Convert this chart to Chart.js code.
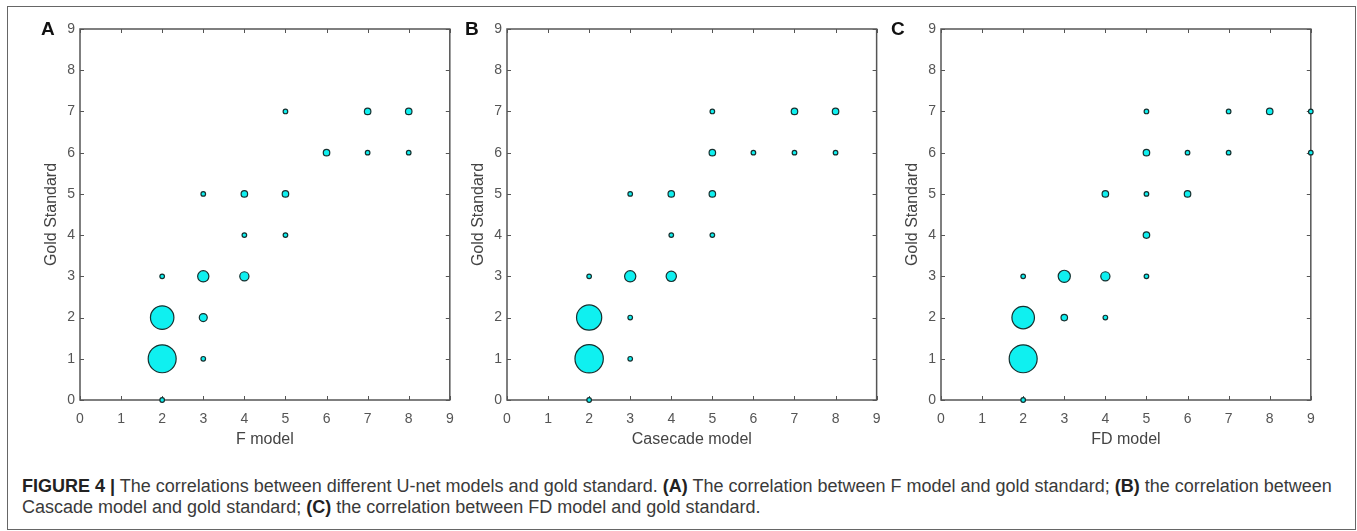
<!DOCTYPE html>
<html>
<head>
<meta charset="utf-8">
<script src="https://cdn.jsdelivr.net/npm/chart.js@4.4.0/dist/chart.umd.min.js"></script>
<style>
  body { margin: 0; background: #fff; }
  #wrap { position: relative; width: 1357px; height: 531px; overflow: hidden; background: #fff; }
  #frame { position: absolute; left: 7px; top: 6px; width: 1349px; height: 524px; border: 1px solid #666; box-sizing: border-box; }
  .cv { position: absolute; top: 0; }
  .tag { position: absolute; font: bold 19px "Liberation Sans", Arial, sans-serif; line-height: 19px; color: #111; }
  #caption { position: absolute; left: 22px; top: 476px; font: 18px "Liberation Sans", Arial, sans-serif; line-height: 21px; color: #3a3a3a; white-space: nowrap; }
  #caption b { color: #222; }
</style>
</head>
<body>
<div id="wrap">
  <div id="frame"></div>
  <canvas id="chartA" class="cv" width="465" height="450" style="left:0px"></canvas>
  <canvas id="chartB" class="cv" width="465" height="450" style="left:427px"></canvas>
  <canvas id="chartC" class="cv" width="465" height="450" style="left:861px"></canvas>
  <div class="tag" style="left:41px;top:19px">A</div>
  <div class="tag" style="left:465px;top:19px">B</div>
  <div class="tag" style="left:891px;top:19px">C</div>
  <div id="caption"><b>FIGURE 4 |</b> The correlations between different U-net models and gold standard. <b>(A)</b> The correlation between F model and gold standard; <b>(B)</b> the correlation between<br>Cascade model and gold standard; <b>(C)</b> the correlation between FD model and gold standard.</div>
</div>
<script>
var axisMin = 0;
var axisMax = 9;
var yTitle = 'Gold Standard';
var xTitles = ['F model', 'Casecade model', 'FD model'];

// panel A: F model vs gold standard (n = number of cases at each point)
var fX = [2, 2, 2, 2, 3, 3, 3, 3, 4, 4, 4, 5, 5, 5, 6, 7, 7, 8, 8];
var fY = [0, 1, 2, 3, 1, 2, 3, 5, 3, 4, 5, 4, 5, 7, 6, 6, 7, 6, 7];
var fN = [1, 37, 26, 1, 1, 3, 6, 1, 4, 1, 2, 1, 2, 1, 2, 1, 2, 1, 2];

// panel B: cascade model
var cX = [2, 2, 2, 2, 3, 3, 3, 3, 4, 4, 4, 5, 5, 5, 5, 6, 7, 7, 8, 8];
var cY = [0, 1, 2, 3, 1, 2, 3, 5, 3, 4, 5, 4, 5, 6, 7, 6, 6, 7, 6, 7];
var cN = [1, 38, 30, 1, 1, 1, 6, 1, 5, 1, 2, 1, 2, 2, 1, 1, 1, 2, 1, 2];

// panel C: FD model
var dX = [2, 2, 2, 2, 3, 3, 4, 4, 4, 5, 5, 5, 5, 5, 6, 6, 7, 7, 8, 9, 9];
var dY = [0, 1, 2, 3, 2, 3, 2, 3, 5, 3, 4, 5, 6, 7, 5, 6, 6, 7, 7, 6, 7];
var dN = [1, 37, 24, 1, 2, 7, 1, 4, 2, 1, 2, 1, 2, 1, 2, 1, 1, 1, 2, 1, 1];

var FONT = '"Liberation Sans", Arial, sans-serif';
var LINE = '#555';

// matlab style box with inward ticks on all four sides
var boxPlugin = {
    id: 'box',
    beforeDatasetsDraw: function (chart) {
        var ctx = chart.ctx, a = chart.chartArea;
        var x = chart.scales.x, y = chart.scales.y;
        ctx.save();
        ctx.strokeStyle = LINE;
        ctx.lineWidth = 1.5;
        ctx.strokeRect(a.left, a.top, a.right - a.left, a.bottom - a.top);
        ctx.beginPath();
        x.ticks.forEach(function (t) {
            var px = Math.round(x.getPixelForValue(t.value)) + 0.5;
            ctx.moveTo(px, a.bottom); ctx.lineTo(px, a.bottom - 4);
            ctx.moveTo(px, a.top); ctx.lineTo(px, a.top + 4);
        });
        y.ticks.forEach(function (t) {
            var py = Math.round(y.getPixelForValue(t.value)) + 0.5;
            ctx.moveTo(a.left, py); ctx.lineTo(a.left + 4, py);
            ctx.moveTo(a.right, py); ctx.lineTo(a.right - 4, py);
        });
        ctx.lineWidth = 1;
        ctx.stroke();
        ctx.restore();
    }
};

function makePanel(id, xs, ys, ns, xTitle) {
    var points = xs.map(function (v, i) {
        return {x: v, y: ys[i], r: 2.3 * Math.sqrt(ns[i])};
    });
    var tickFont = {family: FONT, size: 14};
    var titleFont = {family: FONT, size: 16};
    return new Chart(document.getElementById(id), {
        type: 'bubble',
        data: {
            datasets: [{
                data: points,
                backgroundColor: '#0ff0f0',
                borderColor: '#16302f',
                borderWidth: 1.2,
                clip: false
            }]
        },
        options: {
            responsive: false,
            animation: false,
            layout: {padding: {left: 42, top: 29, right: 13, bottom: 0}},
            plugins: {legend: {display: false}, tooltip: {enabled: false}},
            scales: {
                x: {
                    type: 'linear', min: axisMin, max: axisMax,
                    ticks: {stepSize: 1, padding: 11, color: '#555', font: tickFont},
                    grid: {display: false, drawTicks: false},
                    border: {display: false},
                    title: {display: true, text: xTitle, color: '#444', font: titleFont, padding: {top: 0, bottom: 1}},
                    afterFit: function (s) { s.height = 50; }
                },
                y: {
                    type: 'linear', min: axisMin, max: axisMax,
                    ticks: {stepSize: 1, padding: 5, color: '#555', font: tickFont},
                    grid: {display: false, drawTicks: false},
                    border: {display: false},
                    title: {display: true, text: yTitle, color: '#444', font: titleFont, padding: {top: 0, bottom: 0}},
                    afterFit: function (s) { s.width = 38; }
                }
            }
        },
        plugins: [boxPlugin]
    });
}

makePanel('chartA', fX, fY, fN, xTitles[0]);
makePanel('chartB', cX, cY, cN, xTitles[1]);
makePanel('chartC', dX, dY, dN, xTitles[2]);
</script>
</body>
</html>
